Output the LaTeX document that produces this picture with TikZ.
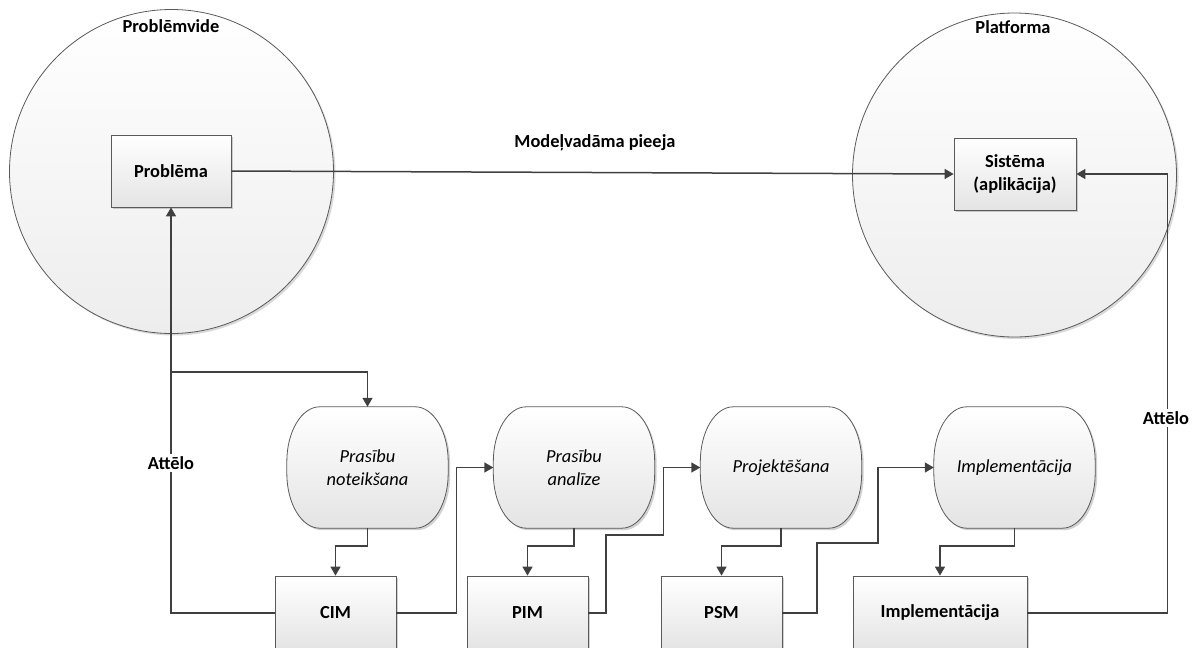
\documentclass[tikz,border=0pt]{standalone}
\usepackage{fontspec}
\setmainfont{Carlito}
\usetikzlibrary{arrows.meta,shadows,backgrounds,calc}

\definecolor{edgecol}{HTML}{404040}
\definecolor{outline}{HTML}{5A5A5A}
\definecolor{shadebot}{HTML}{E4E4E4}
\definecolor{zonebot}{HTML}{EDEDED}

% outline of a process step: flat top and bottom, strongly rounded sides
\newcommand\stepoutline[3]{% node, x shift, y shift
  ($(#1.north west)+(33+#2,#3)$) -- ($(#1.north east)+(-33+#2,#3)$)
  arc[start angle=-90, end angle=0, x radius=33, y radius=55]
  -- ($(#1.south east)+(#2,-55+#3)$)
  arc[start angle=0, end angle=90, x radius=33, y radius=55]
  -- ($(#1.south west)+(33+#2,#3)$)
  arc[start angle=90, end angle=180, x radius=33, y radius=55]
  -- ($(#1.north west)+(#2,55+#3)$)
  arc[start angle=180, end angle=270, x radius=33, y radius=55] -- cycle}

\begin{document}
\begin{tikzpicture}[x=1pt,y=-1pt,
  every node/.style={inner sep=0pt},
  txt/.style={font=\fontsize{18.4}{23}\selectfont\bfseries, align=center},
  zone/.style={draw=outline, line width=0.8pt, top color=white, bottom color=zonebot},
  box/.style={draw=outline, line width=0.8pt, top color=white, bottom color=shadebot,
    minimum height=72pt, font=\fontsize{18.4}{23}\selectfont\bfseries, align=center,
    drop shadow={shadow xshift=2pt, shadow yshift=-2pt, opacity=0.3, fill=black!60}},
  proc/.style={minimum width=161pt, minimum height=121pt,
    font=\fontsize{18.4}{23}\selectfont\itshape, align=center},
  procshape/.style={draw=outline, line width=0.8pt, top color=white, bottom color=shadebot},
  procshadow/.style={fill=black!60, opacity=0.3},
  conn/.style={draw=edgecol, line width=1.5pt, -{Triangle[length=9pt,width=10pt]}},
  tag/.style={txt, fill=white, inner sep=2pt}
]
\useasboundingbox (0,0) rectangle (1197,648);

% the two surrounding zones
\path[fill=black!60, opacity=0.25] (173.5,173.5) circle[radius=162];
\path[zone] (171.5,171.5) circle[radius=162];
\path[fill=black!60, opacity=0.25] (1016.5,177) circle[radius=162];
\path[zone] (1014.5,175) circle[radius=162];
\node[txt] (zl) at (171,26) {Problēmvide};
\node[txt] (zr) at (1013,27) {Platforma};

% start and end of the model-driven path
\node[box, minimum width=120pt] (P) at (171,171) {Problēma};
\node[box, minimum width=122pt] (S) at (1015,174) {Sistēma\\(aplikācija)};

% process steps
\node[proc] (PN) at (367.5,467.5) {Prasību\\noteikšana};
\node[proc] (PA) at (574,467.5) {Prasību\\analīze};
\node[proc] (PJ) at (781,467.5) {Projektēšana};
\node[proc] (PI) at (1014.5,467.5) {Implementācija};

\begin{pgfonlayer}{background}
\foreach \n in {PN,PA,PJ,PI}{
  \path[procshadow] \stepoutline{\n}{2}{2};
  \path[procshape] \stepoutline{\n}{0}{0};
}
\end{pgfonlayer}

% resulting models
\node[box, minimum width=121pt, minimum height=74pt] (CIM) at (335.5,613) {CIM};
\node[box, minimum width=121pt, minimum height=74pt] (PIM) at (527.5,613) {PIM};
\node[box, minimum width=121pt, minimum height=74pt] (PSM) at (721.5,613) {PSM};
\node[box, minimum width=174pt, minimum height=74pt] (IMB) at (940,613) {Implementācija};

% connectors
\draw[conn] (P.east) -- (S.west);
\node[txt] (mv) at (595,143) {Modeļvadāma pieeja};

\coordinate (br) at (171,372);
\draw[conn] (CIM.west) -| (P.south);
\draw[conn] (br) -| (PN.north);
\draw[conn] (PN.south) -- ++(0,18) -| (CIM.north);
\draw[conn] (CIM.east) -- ++(60,0) |- (PA.west);
\draw[conn] (PA.south) -- ++(0,18) -| (PIM.north);
\draw[conn] (PIM.east) -| (606,535) -| ($(PJ.west)+(-37,0)$) -- (PJ.west);
\draw[conn] (PJ.south) -- ++(0,18) -| (PSM.north);
\draw[conn] (PSM.east) -| (817,543) -| ($(PI.west)+(-56,0)$) -- (PI.west);
\draw[conn] (PI.south) -- ++(0,18) -| (IMB.north);
\draw[conn] (IMB.east) -| ($(S.east)+(91,0)$) -- (S.east);

\node[tag] (al) at (171,463) {Attēlo};
\node[tag] (ar) at (1166,418) {Attēlo};
\end{tikzpicture}
\end{document}
